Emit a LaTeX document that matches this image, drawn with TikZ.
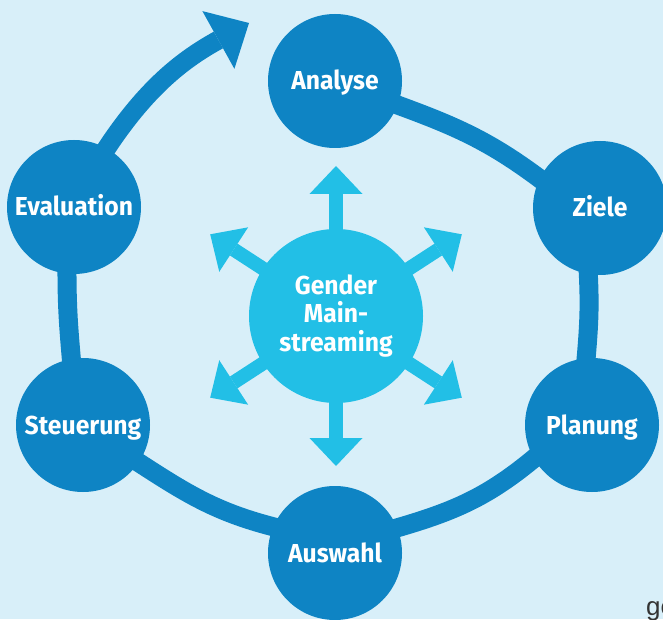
\documentclass[tikz,border=0pt]{standalone}
\usepackage{fontspec}
\newfontfamily\lblfont{Fira Sans}[FakeStretch=0.95]
\newfontfamily\gefont{Liberation Sans}
\usetikzlibrary{arrows.meta}
\definecolor{bgc}{RGB}{216,239,249}
\definecolor{dblue}{RGB}{14,132,196}
\definecolor{cyanc}{RGB}{34,191,230}
\definecolor{gtext}{RGB}{51,51,51}
\pgfdeclarelayer{back}
\pgfdeclarelayer{bg}
\pgfsetlayers{back,bg,main}
\tikzset{
  phase/.style={circle, fill=dblue, draw=none, minimum size=134pt, inner sep=0pt,
    text=white, font=\lblfont\bfseries\fontsize{26pt}{28pt}\selectfont,
    text height=18pt, text depth=0pt},
  core/.style={circle, fill=cyanc, draw=none, minimum size=174pt, inner sep=0pt,
    text=white, font=\lblfont\bfseries\fontsize{26pt}{28.5pt}\selectfont, align=center},
  ring/.style={draw=dblue, line width=19pt, shorten <=-5pt, shorten >=-5pt},
  bigarrow/.style={draw=dblue, line width=19pt, shorten <=-5pt,
    -{Triangle[length=35pt,width=66pt,line width=0pt]}},
  ray/.style={draw=cyanc, line width=14pt,
    -{Triangle[length=28pt,width=53pt,line width=0pt]}}
}
\begin{document}
\begin{tikzpicture}[x=1pt,y=1pt]
\begin{pgfonlayer}{back}
\fill[bgc] (0,0) rectangle (663,619);
\end{pgfonlayer}
\useasboundingbox (0,0) rectangle (663,619);

% phase circles
\node[phase] (A) at (335,538) {Analyse};
\node[phase] (Z) at (600,411) {Ziele};
\node[phase] (P) at (592,194) {Planung};
\node[phase] (W) at (335,66) {Auswahl};
\node[phase] (S) at (83,194) {Steuerung};
\node[phase] (E) at (74,412) {Evaluation};

% ring connectors
\begin{pgfonlayer}{bg}
\draw[ring] (A.-21) to[out=-20, in=143] (Z.154);
\draw[ring] (Z.260) to[out=-87, in=85] (P.95);
\draw[ring] (P.210) to[out=220, in=16] (W.22);
\draw[ring] (W.157) to[out=166, in=-33] (S.-34);
\draw[ring] (S.100) to[out=95, in=-90] (E.264);
\coordinate (tipE) at (249,596);
\draw[bigarrow] (E.61) to[out=57, in=209] (tipE);
\end{pgfonlayer}

% rays from the core
\node[core] (G) at (336,303) {Gender\\Main-\\streaming};
\begin{pgfonlayer}{bg}
\foreach \a in {90,33,-33,-90,147,213}{
  \path (G.center) ++(\a:150) coordinate (t\a);
  \draw[ray] (G.center) -- (t\a);
}
\end{pgfonlayer}

\node[anchor=base west, inner sep=0pt, text=gtext, font=\gefont\fontsize{26pt}{28pt}\selectfont] (ge) at (646,4) {ge};
\end{tikzpicture}
\end{document}
